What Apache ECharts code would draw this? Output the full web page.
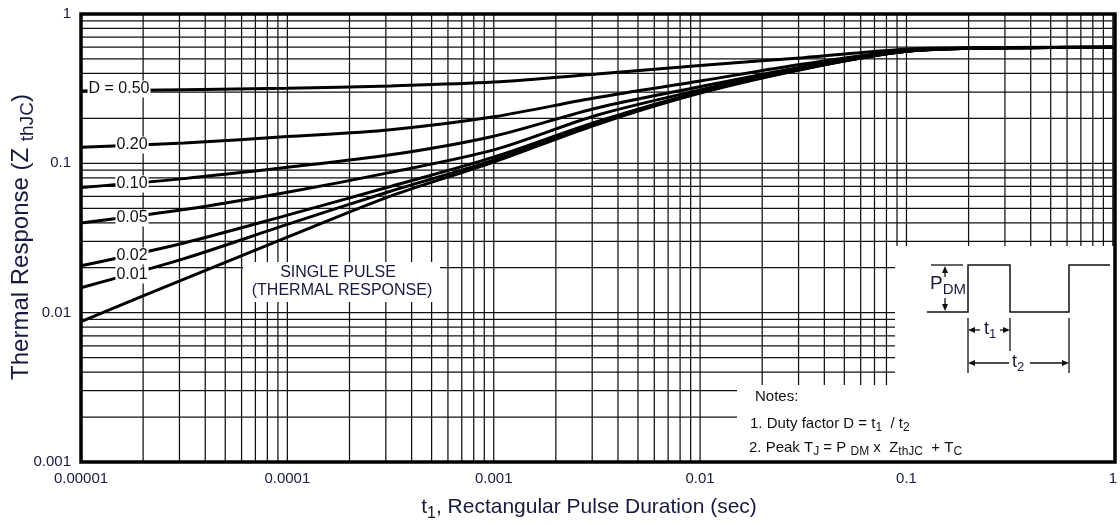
<!DOCTYPE html>
<html>
<head>
<meta charset="utf-8">
<script src="https://cdn.jsdelivr.net/npm/echarts@6/dist/echarts.min.js"></script>
<style>
html,body{margin:0;padding:0;background:#fff;}
#chart{width:1120px;height:525px;}
</style>
</head>
<body>
<div id="chart"></div>
<script>
// ---- data (half-decade steps) ----
const pulseDuration = [1e-5, 3.16e-5, 1e-4, 3.16e-4, 1e-3, 3.16e-3, 1e-2, 3.16e-2, 1e-1, 3.16e-1, 1];
const zD050   = [0.305, 0.311, 0.318, 0.330, 0.350, 0.396, 0.452, 0.510, 0.581, 0.597, 0.600];
const zD020   = [0.128, 0.137, 0.151, 0.168, 0.205, 0.276, 0.356, 0.462, 0.570, 0.595, 0.600];
const zD010   = [0.069, 0.079, 0.094, 0.114, 0.152, 0.235, 0.326, 0.444, 0.566, 0.595, 0.600];
const zD005   = [0.0398, 0.049, 0.064, 0.087, 0.123, 0.210, 0.310, 0.436, 0.564, 0.595, 0.600];
const zD002   = [0.0206, 0.0293, 0.045, 0.070, 0.110, 0.190, 0.301, 0.430, 0.563, 0.594, 0.600];
const zD001   = [0.0147, 0.023, 0.039, 0.065, 0.105, 0.186, 0.298, 0.429, 0.562, 0.594, 0.600];
const zSingle = [0.0087, 0.0168, 0.032, 0.0603, 0.102, 0.182, 0.295, 0.427, 0.562, 0.594, 0.600];
const curveNames = ['D = 0.50', '0.20', '0.10', '0.05', '0.02', '0.01', 'Single pulse'];
const curveValues = [zD050, zD020, zD010, zD005, zD002, zD001, zSingle];
const xTickLabels = ['0.00001', '0.0001', '0.001', '0.01', '0.1', '1'];
const yTickLabels = ['0.001', '0.01', '0.1', '1'];

// ---- grid line positions (1..9 per decade) ----
function decadeLines(kMin, kMax) {
  const out = [];
  for (let k = kMin; k <= kMax; k++) {
    for (let m = 1; m <= 9; m++) {
      if (k === kMax && m > 1) break;
      out.push(Number((m * Math.pow(10, k)).toPrecision(3)));
    }
  }
  return out;
}
const xGrid = decadeLines(-5, 0);
const yGrid = decadeLines(-3, 0);
const X_MIN = 1e-5, X_MAX = 1, Y_MIN = 1e-3, Y_MAX = 1;

const chart = echarts.init(document.getElementById('chart'));
const FONT = '"Liberation Sans", Arial, sans-serif';
const TXT = '#161a3e';

const series = [];
function gridSeries(points) {
  return {
    type: 'line', data: points, z: 1, silent: true, animation: false,
    symbol: 'none', showSymbol: false,
    lineStyle: { color: '#111', width: 1.25 }
  };
}
xGrid.forEach(v => series.push(gridSeries([[v, Y_MIN], [v, Y_MAX]])));
yGrid.forEach(v => series.push(gridSeries([[X_MIN, v], [X_MAX, v]])));

curveValues.forEach((vals, i) => series.push({
  name: curveNames[i],
  type: 'line',
  data: pulseDuration.map((t, j) => [t, vals[j]]),
  smooth: 0.3,
  showSymbol: false,
  symbol: 'none',
  lineStyle: { color: '#000', width: 3 },
  z: 5,
  animation: false,
  silent: true
}));

const L = 81, T = 14, W = 1034, H = 448;

function txt(x, y, text, opts) {
  return {
    type: 'text', x: x, y: y, z: 120,
    style: Object.assign({
      text: text, font: '16px ' + FONT, fill: '#111',
      textAlign: 'center', textVerticalAlign: 'middle'
    }, opts || {})
  };
}
function arrow(x, y, dir) {
  const s = 4, l = 7;
  let pts;
  if (dir === 'up') pts = [[x, y], [x - s / 2 - 1, y + l], [x + s / 2 + 1, y + l]];
  if (dir === 'down') pts = [[x, y], [x - s / 2 - 1, y - l], [x + s / 2 + 1, y - l]];
  if (dir === 'left') pts = [[x, y], [x + l, y - s / 2 - 1], [x + l, y + s / 2 + 1]];
  if (dir === 'right') pts = [[x, y], [x - l, y - s / 2 - 1], [x - l, y + s / 2 + 1]];
  return { type: 'polygon', z: 130, shape: { points: pts }, style: { fill: '#111' } };
}
function line(pts, w) {
  return { type: 'polyline', z: 130, shape: { points: pts }, style: { stroke: '#111', lineWidth: w || 1.3, fill: null } };
}
function subText(x, y, text, size, subSize, drop, align, color) {
  return {
    type: 'text', x: x, y: y, z: 130,
    style: {
      text: text, font: size + 'px ' + FONT, fill: color || TXT,
      textAlign: align || 'left', textVerticalAlign: 'bottom',
      rich: { s: { fontSize: subSize, fontFamily: FONT, fill: color || TXT, verticalAlign: 'bottom', padding: [0, 0, -drop, 0] } }
    }
  };
}

const labelBg = { backgroundColor: '#fff', padding: [1, 1, 0, 1] };

const graphic = [
  // white panels (inset + notes + single pulse label)
  { type: 'rect', z: 100, shape: { x: 895, y: 246, width: W + L - 895, height: T + H - 246 }, style: { fill: '#fff' } },
  { type: 'rect', z: 100, shape: { x: 737, y: 385, width: W + L - 737, height: T + H - 385 }, style: { fill: '#fff' } },
  { type: 'rect', z: 100, shape: { x: 243, y: 262, width: 197, height: 40 }, style: { fill: '#fff' } },
  // plot border
  { type: 'rect', z: 200, shape: { x: L, y: T, width: W, height: H }, style: { fill: null, stroke: '#000', lineWidth: 3.5 } },
  // curve labels
  txt(119, 89, 'D = 0.50', labelBg),
  txt(132, 145, '0.20', labelBg),
  txt(132, 184, '0.10', labelBg),
  txt(132, 218, '0.05', labelBg),
  txt(132, 256, '0.02', labelBg),
  txt(132, 275, '0.01', labelBg),
  txt(338, 273, 'SINGLE PULSE', { fill: TXT }),
  txt(342, 291, '(THERMAL RESPONSE)', { fill: TXT }),
  // pulse diagram
  line([[931, 265], [963, 265]]),
  line([[927, 312], [968, 312], [968, 265], [1010, 265], [1010, 312], [1069, 312], [1069, 265], [1110, 265]], 1.5),
  line([[945, 270], [945, 277]]), arrow(945, 266, 'up'),
  line([[945, 298], [945, 305]]), arrow(945, 311, 'down'),
  subText(930, 293, 'P{s|DM}', 19, 15, 4),
  line([[968, 318], [968, 373]]),
  line([[1010, 318], [1010, 351]]),
  line([[1069, 318], [1069, 373]]),
  line([[970, 330], [980, 330]]), arrow(968, 330, 'left'),
  line([[1000, 330], [1008, 330]]), arrow(1010, 330, 'right'),
  subText(984, 338, 't{s|1}', 18, 13, 3),
  line([[970, 363], [1009, 363]]), arrow(968, 363, 'left'),
  line([[1030, 363], [1067, 363]]), arrow(1069, 363, 'right'),
  subText(1012, 371, 't{s|2}', 18, 13, 3),
  // notes
  txt(755, 397, 'Notes:', { textAlign: 'left', font: '15px ' + FONT }),
  subText(750, 431, '1. Duty factor D = t{s|1}  / t{s|2}', 15, 12, 3, 'left', '#111'),
  subText(749, 455, '2. Peak T{s|J} = P {s|DM} x  Z{s|thJC}  + T{s|C}', 15, 12, 3, 'left', '#111'),
  // axis titles
  subText(589, 518, 't{s|1}, Rectangular Pulse Duration (sec)', 21, 16, 4, 'center'),
  {
    type: 'text', x: 21, y: 237, rotation: Math.PI / 2, z: 130,
    style: {
      text: 'Thermal Response (Z {s|thJC})', font: '24px ' + FONT, fill: TXT,
      textAlign: 'center', textVerticalAlign: 'middle',
      rich: { s: { fontSize: 19, fontFamily: FONT, fill: TXT, verticalAlign: 'bottom', padding: [0, 0, -4, 0] } }
    }
  }
];

function tickLabel(arr, base) {
  return function (v) {
    const idx = Math.round(Math.log10(v)) - base;
    return arr[idx] !== undefined ? arr[idx] : '';
  };
}

chart.setOption({
  animation: false,
  backgroundColor: '#fff',
  grid: { left: L, top: T, width: W, height: H, containLabel: false },
  xAxis: {
    type: 'log', logBase: 10, min: X_MIN, max: X_MAX,
    axisLine: { show: false }, axisTick: { show: false },
    splitLine: { show: false },
    axisLabel: { color: TXT, fontSize: 15, fontFamily: FONT, margin: 9, formatter: tickLabel(xTickLabels, -5), showMaxLabel: true, showMinLabel: true }
  },
  yAxis: {
    type: 'log', logBase: 10, min: Y_MIN, max: Y_MAX,
    axisLine: { show: false }, axisTick: { show: false },
    splitLine: { show: false },
    axisLabel: { color: TXT, fontSize: 15, fontFamily: FONT, margin: 10, formatter: tickLabel(yTickLabels, -3), showMaxLabel: true, showMinLabel: true }
  },
  series: series,
  graphic: graphic
});
</script>
</body>
</html>
